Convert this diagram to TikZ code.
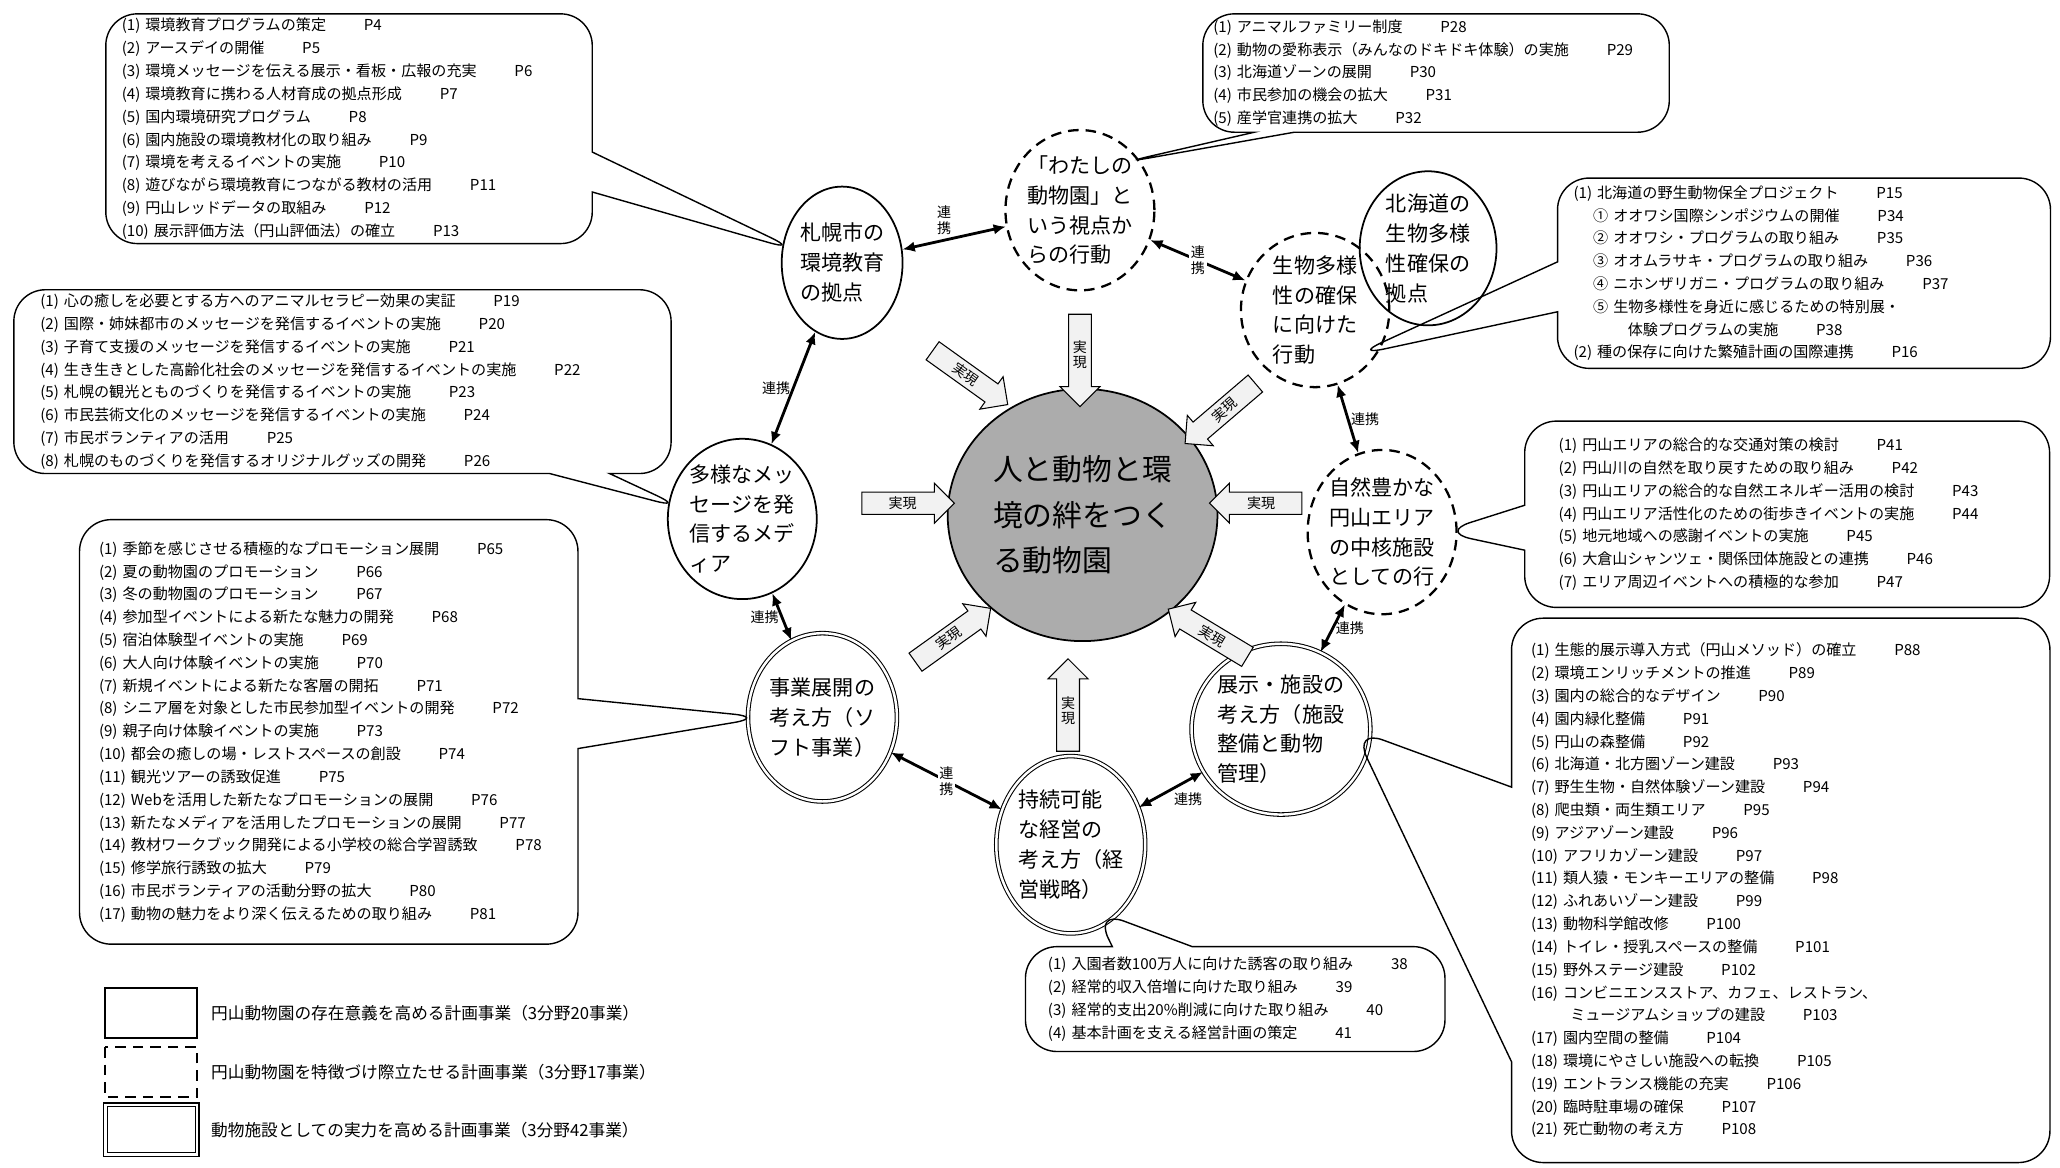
\documentclass[tikz,border=0pt]{standalone}
\usepackage{fontspec}
\setmainfont{Noto Sans CJK JP}
\usetikzlibrary{calc, shapes.geometric, shapes.arrows, shapes.callouts, arrows.meta, positioning}

\tikzset{
  kihon/.style={ellipse, draw, line width=1pt, align=left, inner sep=0pt, font=\fontsize{12}{17}\selectfont},
  tokucho/.style={kihon, dashed, dash pattern=on 6pt off 4pt, line width=1.3pt},
  jitsuryoku/.style={kihon, double, double distance=1.4pt, line width=0.6pt},
  fukidashi/.style={rectangle callout, draw, line width=0.8pt, rounded corners=18pt, align=left, anchor=north west, inner ysep=2pt, font=\fontsize{8.6}{13}\selectfont},
  jitsugen/.style={single arrow, draw, fill=gray!10, line width=0.6pt, minimum height=1.85cm, minimum width=0.8cm, single arrow head extend=0.14cm, inner sep=1pt, align=center, font=\fontsize{8}{9}\selectfont},
  renkei/.style={line width=1.6pt, {Latex[length=7pt,width=6pt]}-{Latex[length=7pt,width=6pt]}},
  rklabel/.style={font=\fontsize{8}{9}\selectfont, align=center, inner sep=1pt},
  rkw/.style={fill=white},
  legA/.style={draw, line width=1pt},
  legB/.style={draw, dashed, dash pattern=on 6pt off 4pt, line width=1.3pt},
  legC/.style={draw, double, double distance=1.6pt, line width=0.6pt},
}
\newcommand{\pnum}[1]{\hspace{2.5em}#1}

\begin{document}
\begin{tikzpicture}[x=0.0263cm, y=-0.0263cm]
    \fill[white] (0,0) rectangle (1568,889);
    \useasboundingbox (0,0) rectangle (1568,889);

    % Vòng tròn trung tâm
    \node[ellipse, draw, line width=1pt, fill=gray!65, minimum width=4.68cm, minimum height=5.05cm,
          align=left, font=\fontsize{17}{26}\selectfont] (core) at (824,392) {人と動物と環\\境の絆をつく\\る動物園};

    % Các vòng tròn xung quanh
    \node[kihon, minimum width=2.42cm, minimum height=3.05cm] (sap) at (641,200) {札幌市の\\環境教育\\の拠点};
    \node[tokucho, minimum width=2.76cm, minimum height=3.21cm] (wat) at (822,160) {「わたしの\\動物園」と\\いう視点か\\らの行動};
    \node[tokucho, minimum width=2.97cm, minimum height=3.05cm] (bio) at (1001,236) {生物多様\\性の確保\\に向けた\\行動};
    \node[kihon, minimum width=2.74cm, minimum height=2.74cm] (hok) at (1087,189) {北海道の\\生物多様\\性確保の\\拠点};
    \node[tokucho, minimum width=2.76cm, minimum height=3.29cm] (nat) at (1052,405) {自然豊かな\\円山エリア\\の中核施設\\としての行};
    \node[jitsuryoku, minimum width=3.05cm, minimum height=3.42cm] (ten) at (975,555) {展示・施設の\\考え方（施設\\整備と動物\\管理）};
    \node[jitsuryoku, minimum width=2.84cm, minimum height=3.55cm] (jiz) at (815,643) {持続可能\\な経営の\\考え方（経\\営戦略）};
    \node[jitsuryoku, minimum width=2.84cm, minimum height=3.37cm] (jig) at (626,546) {事業展開の\\考え方（ソ\\フト事業）};
    \node[kihon, minimum width=2.79cm, minimum height=3.21cm] (tay) at (565,395) {多様なメッ\\セージを発\\信するメデ\\ィア};

    % Mũi tên "実現"
    \node[jitsugen, rotate=-35.6] (j1) at (735,285) {実現};
    \node[jitsugen, shape border rotate=270] (j2) at (822,270) {実\\現};
    \node[jitsugen, rotate=40.5, shape border rotate=180] (j3) at (932,312) {実現};
    \node[jitsugen] (j4) at (687,383) {実現};
    \node[jitsugen, shape border rotate=180] (j5) at (960,383) {実現};
    \node[jitsugen, rotate=35.6] (j6) at (722,486) {実現};
    \node[jitsugen, shape border rotate=90] (j7) at (813,541) {実\\現};
    \node[jitsugen, rotate=-31.1, shape border rotate=180] (j8) at (923,484) {実現};

    % Mũi tên "連携"
    \foreach \a/\b/\p/\t in {sap/wat/above left/{連\\携}, wat/bio/rkw/{連\\携}, bio/nat/right/連携,
                             nat/ten/right/連携, ten/jiz/below right/連携, jiz/jig/rkw/{連\\携},
                             jig/tay/left/連携, tay/sap/left/連携} {
        \draw[renkei] (\a) -- (\b) node[rklabel, midway, \p] (rk-\a) {\t};
    }

    % Các ô chú thích
    \node[fukidashi, text width=9.1cm, inner xsep=0.32cm, minimum height=4.6cm, callout pointer width=0.8cm,
          callout absolute pointer={($(sap.165)!10pt!(sap.center)$)}] (kyoiku) at (80,10) {%
        (1) 環境教育プログラムの策定\pnum{P4}\\
        (2) アースデイの開催\pnum{P5}\\
        (3) 環境メッセージを伝える展示・看板・広報の充実\pnum{P6}\\
        (4) 環境教育に携わる人材育成の拠点形成\pnum{P7}\\
        (5) 国内環境研究プログラム\pnum{P8}\\
        (6) 園内施設の環境教材化の取り組み\pnum{P9}\\
        (7) 環境を考えるイベントの実施\pnum{P10}\\
        (8) 遊びながら環境教育につながる教材の活用\pnum{P11}\\
        (9) 円山レッドデータの取組み\pnum{P12}\\
        (10) 展示評価方法（円山評価法）の確立\pnum{P13}};

    \node[fukidashi, text width=8.92cm, inner xsep=0.21cm, minimum height=2.37cm, callout pointer width=0.8cm,
          callout absolute pointer={($(wat.50)!10pt!(wat.center)$)}] (watashi) at (915,10) {%
        (1) アニマルファミリー制度\pnum{P28}\\
        (2) 動物の愛称表示（みんなのドキドキ体験）の実施\pnum{P29}\\
        (3) 北海道ゾーンの展開\pnum{P30}\\
        (4) 市民参加の機会の拡大\pnum{P31}\\
        (5) 産学官連携の拡大\pnum{P32}};

    \node[fukidashi, text width=9.23cm, inner xsep=0.32cm, minimum height=3.81cm, callout pointer width=1cm,
          callout absolute pointer={($(bio.-50)!10pt!(bio.center)$)}] (hozen) at (1185,135) {%
        (1) 北海道の野生動物保全プロジェクト\pnum{P15}\\
        \hspace*{1.3em}① オオワシ国際シンポジウムの開催\pnum{P34}\\
        \hspace*{1.3em}② オオワシ・プログラムの取り組み\pnum{P35}\\
        \hspace*{1.3em}③ オオムラサキ・プログラムの取り組み\pnum{P36}\\
        \hspace*{1.3em}④ ニホンザリガニ・プログラムの取り組み\pnum{P37}\\
        \hspace*{1.3em}⑤ 生物多様性を身近に感じるための特別展・\\
        \hspace*{3.6em}体験プログラムの実施\pnum{P38}\\
        (2) 種の保存に向けた繁殖計画の国際連携\pnum{P16}};

    \node[fukidashi, text width=12.1cm, inner xsep=0.53cm, minimum height=3.68cm, callout pointer width=1.2cm,
          callout absolute pointer={($(tay.170)!10pt!(tay.center)$)}] (media) at (10,220) {%
        (1) 心の癒しを必要とする方へのアニマルセラピー効果の実証\pnum{P19}\\
        (2) 国際・姉妹都市のメッセージを発信するイベントの実施\pnum{P20}\\
        (3) 子育て支援のメッセージを発信するイベントの実施\pnum{P21}\\
        (4) 生き生きとした高齢化社会のメッセージを発信するイベントの実施\pnum{P22}\\
        (5) 札幌の観光とものづくりを発信するイベントの実施\pnum{P23}\\
        (6) 市民芸術文化のメッセージを発信するイベントの実施\pnum{P24}\\
        (7) 市民ボランティアの活用\pnum{P25}\\
        (8) 札幌のものづくりを発信するオリジナルグッズの開発\pnum{P26}};

    \node[fukidashi, text width=9.15cm, inner xsep=0.68cm, minimum height=3.73cm, callout pointer width=0.9cm,
          callout absolute pointer={($(nat.east)!10pt!(nat.center)$)}] (maruyama) at (1160,320) {%
        (1) 円山エリアの総合的な交通対策の検討\pnum{P41}\\
        (2) 円山川の自然を取り戻すための取り組み\pnum{P42}\\
        (3) 円山エリアの総合的な自然エネルギー活用の検討\pnum{P43}\\
        (4) 円山エリア活性化のための街歩きイベントの実施\pnum{P44}\\
        (5) 地元地域への感謝イベントの実施\pnum{P45}\\
        (6) 大倉山シャンツェ・関係団体施設との連携\pnum{P46}\\
        (7) エリア周辺イベントへの積極的な参加\pnum{P47}};

    \node[fukidashi, text width=9.2cm, inner xsep=0.39cm, minimum height=8.5cm, callout pointer width=1cm,
          callout absolute pointer={($(jig.west)!10pt!(jig.center)$)}] (jigyo) at (60,395) {%
        (1) 季節を感じさせる積極的なプロモーション展開\pnum{P65}\\
        (2) 夏の動物園のプロモーション\pnum{P66}\\
        (3) 冬の動物園のプロモーション\pnum{P67}\\
        (4) 参加型イベントによる新たな魅力の開発\pnum{P68}\\
        (5) 宿泊体験型イベントの実施\pnum{P69}\\
        (6) 大人向け体験イベントの実施\pnum{P70}\\
        (7) 新規イベントによる新たな客層の開拓\pnum{P71}\\
        (8) シニア層を対象とした市民参加型イベントの開発\pnum{P72}\\
        (9) 親子向け体験イベントの実施\pnum{P73}\\
        (10) 都会の癒しの場・レストスペースの創設\pnum{P74}\\
        (11) 観光ツアーの誘致促進\pnum{P75}\\
        (12) Webを活用した新たなプロモーションの展開\pnum{P76}\\
        (13) 新たなメディアを活用したプロモーションの展開\pnum{P77}\\
        (14) 教材ワークブック開発による小学校の総合学習誘致\pnum{P78}\\
        (15) 修学旅行誘致の拡大\pnum{P79}\\
        (16) 市民ボランティアの活動分野の拡大\pnum{P80}\\
        (17) 動物の魅力をより深く伝えるための取り組み\pnum{P81}};

    \node[fukidashi, text width=10cm, inner xsep=0.39cm, minimum height=10.9cm, callout pointer width=5.5cm,
          callout absolute pointer={($(ten.east)!10pt!(ten.center)$)}] (tenji) at (1150,470) {%
        (1) 生態的展示導入方式（円山メソッド）の確立\pnum{P88}\\
        (2) 環境エンリッチメントの推進\pnum{P89}\\
        (3) 園内の総合的なデザイン\pnum{P90}\\
        (4) 園内緑化整備\pnum{P91}\\
        (5) 円山の森整備\pnum{P92}\\
        (6) 北海道・北方圏ゾーン建設\pnum{P93}\\
        (7) 野生生物・自然体験ゾーン建設\pnum{P94}\\
        (8) 爬虫類・両生類エリア\pnum{P95}\\
        (9) アジアゾーン建設\pnum{P96}\\
        (10) アフリカゾーン建設\pnum{P97}\\
        (11) 類人猿・モンキーエリアの整備\pnum{P98}\\
        (12) ふれあいゾーン建設\pnum{P99}\\
        (13) 動物科学館改修\pnum{P100}\\
        (14) トイレ・授乳スペースの整備\pnum{P101}\\
        (15) 野外ステージ建設\pnum{P102}\\
        (16) コンビニエンスストア、カフェ、レストラン、\\
        \hspace*{2.6em}ミュージアムショップの建設\pnum{P103}\\
        (17) 園内空間の整備\pnum{P104}\\
        (18) 環境にやさしい施設への転換\pnum{P105}\\
        (19) エントランス機能の充実\pnum{P106}\\
        (20) 臨時駐車場の確保\pnum{P107}\\
        (21) 死亡動物の考え方\pnum{P108}};

    \node[fukidashi, text width=7.5cm, inner xsep=0.45cm, minimum height=2.1cm, callout pointer width=1.6cm,
          callout absolute pointer={($(jiz.-70)!10pt!(jiz.center)$)}] (keiei) at (780,720) {%
        (1) 入園者数100万人に向けた誘客の取り組み\pnum{38}\\
        (2) 経常的収入倍増に向けた取り組み\pnum{39}\\
        (3) 経常的支出20\%削減に向けた取り組み\pnum{40}\\
        (4) 基本計画を支える経営計画の策定\pnum{41}};

    % Chú giải
    \foreach \st/\y/\t in {legA/771/{円山動物園の存在意義を高める計画事業（3分野20事業）},
                           legB/816/{円山動物園を特徴づけ際立たせる計画事業（3分野17事業）},
                           legC/860/{動物施設としての実力を高める計画事業（3分野42事業）}} {
        \draw[\st] (80,\y-19) rectangle (150,\y+19);
        \node[right, font=\fontsize{9.5}{11}\selectfont] (leg\y) at (156,\y) {\t};
    }
\end{tikzpicture}
\end{document}
